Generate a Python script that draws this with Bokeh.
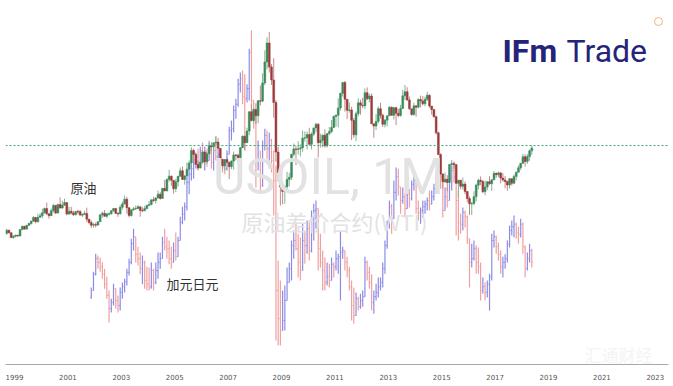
import numpy as np
from bokeh.plotting import figure
from bokeh.models import Range1d, FixedTicker, Span, Label, ColumnDataSource
from bokeh.embed import file_html
from bokeh.resources import INLINE

# ---------------- data ----------------
oil_start = (1998, 9)
oil_first_open = 13.9
oil_close = [16.1, 14.4, 11.2, 12.1,
    12.8, 12.3, 16.5, 18.7, 16.8, 19.3, 20.5, 22.1, 24.5, 21.7, 24.6, 25.6,
    27.6, 30.4, 26.9, 25.7, 29.0, 32.5, 27.4, 33.1, 30.8, 32.7, 34.4, 26.8,
    28.7, 27.4, 26.3, 28.5, 28.4, 26.2, 26.4, 27.2, 23.4, 21.2, 19.4, 19.8,
    19.5, 21.7, 26.3, 27.3, 25.3, 26.9, 27.0, 29.0, 30.5, 27.2, 26.9, 31.2,
    33.5, 36.6, 31.0, 25.8, 29.6, 30.2, 30.5, 31.6, 29.2, 29.1, 30.4, 32.5,
    33.1, 36.2, 35.8, 37.4, 39.9, 37.1, 43.8, 42.1, 49.6, 51.8, 49.1, 43.5,
    48.2, 51.8, 55.4, 49.7, 52.0, 56.5, 60.6, 68.9, 66.2, 59.8, 57.3, 61.0,
    67.9, 61.4, 66.6, 71.9, 71.3, 73.9, 74.4, 70.3, 62.9, 58.7, 62.9, 61.1,
    58.1, 61.8, 65.9, 65.7, 64.0, 70.7, 78.2, 74.0, 81.7, 94.5, 88.7, 96.0,
    91.8, 101.8, 101.6, 113.5, 127.4, 140.0, 124.1, 115.5, 100.6, 67.8, 54.4, 44.6,
    41.7, 44.8, 49.7, 51.1, 66.3, 69.9, 69.5, 70.0, 70.6, 77.0, 77.3, 79.4,
    72.9, 79.7, 83.8, 86.2, 74.0, 75.6, 79.0, 71.9, 80.0, 81.4, 84.1, 91.4,
    92.2, 97.0, 106.7, 113.9, 102.7, 95.4, 95.7, 88.8, 79.2, 93.2, 100.4, 98.8,
    98.5, 107.1, 103.0, 104.9, 86.5, 85.0, 88.1, 96.5, 92.2, 86.2, 88.9, 91.8,
    97.5, 92.1, 97.2, 93.5, 92.0, 96.6, 105.0, 107.7, 102.3, 96.4, 92.7, 98.4,
    97.5, 102.6, 101.6, 99.7, 102.7, 105.4, 98.2, 96.0, 91.2, 80.5, 66.2, 53.3,
    48.2, 49.8, 47.6, 59.6, 60.3, 59.5, 47.1, 49.2, 45.1, 46.6, 41.7, 37.0,
    33.6, 33.8, 38.3, 45.9, 49.1, 48.3, 41.6, 44.7, 48.2, 46.9, 49.4, 53.7,
    52.8, 54.0, 50.6, 49.3, 48.3, 46.0, 50.2, 47.2, 51.7, 54.4, 57.4, 60.4,
    64.7, 61.6, 64.9, 68.6, 70.5]
oil_high = [16.9, 16.3, 14.8, 12.8,
    13.2, 13.0, 16.8, 18.9, 18.8, 19.4, 21.0, 22.4, 25.5, 24.9, 26.9, 27.4,
    30.3, 31.1, 34.4, 27.2, 30.4, 33.4, 32.5, 33.6, 37.8, 35.6, 37.0, 34.4,
    31.6, 31.6, 28.8, 28.6, 29.7, 29.4, 27.4, 28.9, 31.0, 23.4, 22.6, 20.8,
    21.3, 21.9, 26.5, 28.4, 29.4, 27.4, 28.0, 29.4, 30.8, 30.6, 28.0, 32.9,
    35.0, 39.1, 38.1, 30.0, 29.7, 31.4, 32.4, 32.7, 30.2, 31.3, 32.2, 33.0,
    35.3, 36.4, 38.3, 37.9, 42.3, 41.2, 44.0, 49.4, 50.5, 56.0, 52.3, 46.3,
    50.0, 52.0, 57.6, 58.3, 52.6, 60.9, 62.3, 70.9, 70.0, 66.7, 62.3, 61.3,
    69.2, 68.4, 67.9, 75.4, 74.3, 74.0, 78.4, 77.1, 70.5, 63.3, 62.9, 64.3,
    61.3, 62.3, 68.1, 66.5, 66.6, 71.0, 78.8, 78.8, 83.9, 94.7, 99.3, 97.0,
    100.1, 102.1, 111.8, 119.9, 135.1, 143.7, 147.3, 126.0, 130.0, 102.2, 71.1, 54.9,
    48.6, 45.8, 54.7, 54.0, 66.7, 73.4, 71.9, 75.0, 72.9, 82.0, 81.5, 81.3,
    83.9, 80.9, 83.9, 87.2, 87.0, 79.9, 79.4, 82.8, 80.1, 84.4, 89.0, 92.0,
    92.6, 103.4, 107.0, 113.9, 114.8, 102.4, 100.6, 97.8, 90.5, 94.6, 103.4, 102.4,
    103.7, 109.8, 110.6, 106.4, 106.7, 86.4, 92.9, 97.9, 100.4, 93.2, 89.7, 91.8,
    98.2, 97.8, 97.7, 97.8, 96.4, 99.0, 108.9, 112.2, 110.7, 104.5, 95.9, 100.6,
    98.3, 103.4, 105.2, 104.9, 104.4, 107.7, 106.0, 98.3, 95.9, 91.9, 81.2, 67.0,
    53.7, 54.2, 52.5, 59.9, 62.6, 61.6, 59.5, 49.3, 49.3, 50.9, 48.4, 42.0,
    38.4, 34.8, 41.9, 46.8, 50.2, 51.7, 49.4, 48.8, 48.4, 51.9, 49.9, 55.2,
    54.3, 54.9, 54.6, 53.8, 52.0, 48.9, 50.4, 50.2, 52.9, 54.9, 59.1, 60.5,
    66.7, 66.3, 66.5, 69.6, 72.3]
oil_low = [13.1, 13.9, 10.9, 10.4,
    11.3, 11.6, 12.0, 16.0, 16.4, 16.6, 18.9, 19.8, 21.5, 20.6, 21.3, 24.5,
    24.0, 27.0, 26.0, 23.7, 25.5, 27.8, 26.8, 27.4, 30.5, 30.2, 32.0, 25.9,
    26.1, 26.5, 25.6, 25.9, 26.8, 25.6, 24.8, 26.2, 21.6, 20.0, 17.5, 17.8,
    17.9, 19.0, 21.5, 24.3, 25.0, 24.2, 25.9, 26.3, 28.3, 26.9, 24.9, 26.5,
    29.7, 33.0, 27.0, 24.5, 25.0, 28.9, 29.5, 30.3, 25.0, 28.1, 28.5, 29.9,
    32.0, 32.5, 34.6, 33.6, 37.1, 36.3, 37.8, 41.9, 41.8, 48.1, 45.5, 40.3,
    41.3, 45.0, 51.3, 49.3, 46.2, 51.2, 55.9, 59.5, 62.2, 59.1, 56.0, 56.9,
    61.1, 59.4, 60.1, 66.0, 68.4, 68.1, 72.5, 69.6, 59.5, 56.6, 55.4, 60.6,
    49.9, 56.4, 56.2, 62.4, 61.5, 64.2, 70.4, 69.0, 73.9, 79.0, 88.0, 87.0,
    86.1, 86.9, 98.7, 100.6, 112.0, 122.6, 120.4, 112.2, 90.5, 61.3, 48.4, 32.4,
    33.2, 33.6, 40.8, 45.1, 49.3, 64.9, 59.1, 66.1, 65.0, 68.0, 74.7, 69.5,
    72.4, 69.5, 78.3, 81.1, 64.2, 70.8, 71.0, 70.8, 70.8, 79.0, 80.4, 85.7,
    84.6, 84.1, 95.2, 104.5, 94.6, 89.6, 93.9, 75.7, 77.1, 74.9, 91.5, 92.5,
    96.8, 96.2, 102.1, 100.7, 86.3, 77.3, 82.4, 86.7, 90.0, 84.4, 84.1, 84.8,
    91.8, 92.0, 89.3, 85.6, 91.0, 91.2, 96.5, 102.2, 101.6, 95.9, 91.8, 91.8,
    91.2, 96.8, 97.4, 98.6, 98.0, 101.6, 97.1, 92.5, 90.6, 79.4, 65.7, 52.4,
    43.6, 47.3, 42.0, 47.0, 56.5, 56.6, 46.7, 37.8, 43.2, 43.0, 39.9, 34.5,
    26.2, 26.1, 32.6, 35.2, 43.0, 45.8, 40.6, 39.2, 42.5, 46.0, 42.2, 49.9,
    50.7, 51.2, 47.1, 48.2, 43.8, 42.1, 43.6, 45.6, 46.5, 49.1, 54.2, 55.8,
    59.8, 58.1, 59.9, 62.0, 66.0]

cad_start = (2001, 11)
cad_first_open = 80.5
cad_high = [82.1, 84.6,
    87.5, 87.2, 86.9, 86.1, 85.1, 83.8, 81.6, 80.3, 82.7, 81.9, 80.8, 82.1,
    82.9, 83.5, 85.1, 86.7, 89.9, 91.5, 89.9, 88.6, 87.7, 87.2, 86.4, 85.4,
    85.3, 86.1, 85.1, 86.1, 87.7, 87.7, 90.2, 91.5, 90.2, 89.6, 88.6, 89.3,
    90.9, 90.2, 93.4, 95.0, 95.7, 99.8, 101.1, 102.1, 102.7, 103.7, 104.3, 104.6,
    105.3, 104.6, 104.3, 105.3, 104.0, 104.6, 106.2, 104.3, 104.0, 102.7, 102.4, 104.0,
    107.8, 108.8, 111.2, 112.3, 115.5, 116.5, 116.8, 116.2, 114.6, 120.3, 123.2, 112.0,
    110.4, 105.6, 104.0, 105.6, 107.5, 107.2, 106.9, 105.9, 104.0, 101.6, 86.4, 83.2,
    81.6, 82.4, 85.3, 86.1, 89.6, 91.2, 92.5, 90.7, 90.1, 92.3, 91.2, 92.8,
    92.8, 94.4, 95.5, 96.0, 92.0, 90.7, 88.0, 86.9, 86.1, 85.9, 86.9, 86.1,
    88.0, 87.5, 91.2, 88.6, 87.7, 87.0, 85.4, 83.2, 82.1, 81.3, 80.6, 81.1,
    81.6, 87.0, 86.4, 85.4, 84.2, 81.6, 82.7, 83.7, 83.7, 86.1, 89.6, 92.8,
    96.0, 95.5, 99.2, 101.3, 101.1, 98.1, 98.1, 97.1, 98.1, 97.9, 99.2, 99.8,
    99.7, 96.0, 94.9, 96.0, 96.0, 96.5, 97.6, 97.6, 98.7, 100.3, 101.6, 102.4,
    99.8, 98.1, 98.1, 100.8, 101.6, 101.9, 99.5, 97.6, 93.9, 94.9, 94.4, 93.6,
    89.9, 89.1, 89.6, 88.8, 88.5, 86.1, 83.7, 82.9, 83.2, 84.3, 90.7, 91.2,
    90.4, 89.3, 88.0, 87.0, 87.4, 89.6, 92.0, 92.8, 93.6, 92.5, 91.8, 93.1,
    92.5, 88.8, 87.7, 89.1, 88.3]
cad_low = [80.3, 81.6,
    84.0, 85.1, 84.6, 83.5, 81.9, 80.3, 76.5, 78.1, 79.2, 78.7, 78.1, 78.4,
    80.3, 81.3, 82.4, 84.0, 85.8, 88.0, 86.1, 85.6, 84.2, 82.6, 81.9, 81.6,
    81.6, 81.9, 81.6, 82.6, 83.5, 85.1, 86.7, 88.0, 86.7, 85.8, 85.1, 86.1,
    86.4, 87.4, 89.6, 92.2, 92.8, 94.4, 97.0, 99.2, 99.5, 101.1, 100.8, 102.4,
    101.8, 100.8, 101.4, 102.4, 101.1, 100.8, 102.4, 100.8, 101.1, 100.5, 100.2, 100.8,
    104.0, 105.6, 106.9, 109.1, 111.0, 113.3, 111.4, 104.0, 111.7, 112.0, 109.1, 107.5,
    98.1, 100.8, 97.1, 98.2, 104.0, 102.7, 102.4, 100.5, 93.6, 73.6, 72.8, 72.8,
    75.2, 75.2, 80.0, 82.9, 83.2, 86.7, 88.0, 83.7, 83.2, 85.1, 85.9, 87.5,
    86.4, 87.7, 89.6, 91.5, 84.8, 85.3, 81.6, 81.6, 82.4, 82.1, 83.2, 83.7,
    84.8, 84.3, 80.0, 86.7, 84.8, 83.7, 81.6, 76.8, 76.3, 77.9, 78.4, 78.7,
    79.0, 81.0, 83.2, 81.9, 78.4, 77.9, 80.0, 80.5, 81.6, 82.1, 84.3, 88.3,
    91.5, 90.7, 93.9, 96.0, 96.8, 93.9, 95.5, 93.3, 95.7, 94.9, 96.0, 97.6,
    93.9, 92.8, 92.3, 93.3, 93.9, 94.4, 94.4, 95.5, 96.0, 97.1, 98.7, 97.9,
    93.3, 94.4, 94.9, 96.0, 97.6, 98.9, 90.4, 89.6, 90.7, 91.2, 91.7, 89.1,
    82.1, 85.3, 86.4, 84.3, 84.3, 80.0, 81.1, 80.0, 80.5, 78.4, 83.2, 88.5,
    87.5, 86.4, 84.3, 83.7, 85.1, 86.1, 88.5, 90.4, 90.1, 89.9, 89.1, 90.1,
    87.5, 83.7, 84.8, 86.1, 85.3]
cad_close = [81.6, 84.2,
    86.7, 86.1, 85.4, 84.2, 82.6, 80.8, 78.7, 79.7, 81.9, 80.0, 79.2, 81.3,
    82.2, 83.0, 84.5, 86.1, 89.1, 90.2, 87.4, 86.7, 85.1, 86.1, 83.2, 82.6,
    82.2, 84.8, 82.9, 84.8, 86.1, 86.7, 89.3, 88.6, 88.3, 86.7, 86.1, 88.0,
    87.0, 89.6, 92.5, 93.8, 95.0, 98.9, 100.2, 101.1, 101.8, 103.0, 102.1, 104.0,
    102.7, 103.7, 102.4, 104.6, 102.1, 104.0, 103.0, 103.4, 102.1, 101.4, 101.1, 103.4,
    107.2, 107.5, 110.4, 111.4, 114.6, 115.5, 112.6, 112.3, 113.9, 119.7, 112.0, 110.1,
    102.4, 102.7, 98.4, 104.8, 106.4, 104.3, 105.6, 102.4, 99.2, 81.6, 77.1, 75.2,
    76.8, 80.0, 82.9, 85.1, 88.8, 89.6, 88.3, 86.1, 84.8, 89.6, 88.8, 91.5,
    88.0, 92.8, 94.4, 94.7, 88.3, 86.1, 84.8, 82.9, 83.8, 83.2, 85.8, 85.4,
    86.7, 87.0, 87.7, 88.0, 86.1, 84.8, 82.2, 79.2, 77.6, 80.3, 79.0, 80.0,
    80.6, 86.1, 84.5, 82.9, 79.7, 80.6, 81.3, 82.2, 82.9, 85.1, 88.8, 92.0,
    95.0, 93.1, 97.3, 99.8, 98.2, 96.0, 96.6, 94.7, 97.0, 96.3, 98.6, 99.2,
    94.7, 94.1, 94.4, 95.0, 95.4, 96.0, 95.4, 96.6, 97.9, 99.5, 100.8, 99.8,
    94.4, 96.6, 96.0, 99.5, 100.8, 99.8, 96.0, 92.5, 92.2, 94.1, 93.4, 89.9,
    86.1, 86.7, 88.3, 86.1, 85.4, 81.6, 82.2, 81.3, 82.6, 83.8, 89.6, 90.2,
    88.6, 87.4, 85.4, 86.1, 86.7, 89.0, 91.2, 91.8, 92.2, 90.9, 90.6, 92.2,
    88.6, 85.1, 86.7, 88.0, 86.1]

year_ticks = list(range(1999, 2024, 2))
oil_dash_level = 72.1

# ---------------- helpers ----------------
def month_times(start, n):
    y0, m0 = start
    k = np.arange(n) + (m0 - 1)
    return y0 + k / 12.0 + 1.0 / 24.0

def ohlc(first_open, close, high, low):
    c = np.array(close, float)
    o = np.concatenate([[first_open], c[:-1]])
    h = np.maximum.reduce([np.array(high, float), o, c])
    l = np.minimum.reduce([np.array(low, float), o, c])
    return o, h, l, c

X0 = 1998.663
PPY = 26.7
FRAME_W = 663
FRAME_H = 364
X1 = X0 + FRAME_W / PPY
OIL_TOP, OIL_BOT = 168.1, -72.8
CAD_TOP = 128.0
CAD_BOT = CAD_TOP - 0.16 * FRAME_H

def sx(px):   # page x -> data x
    return X0 + (px - 5) / PPY

def sy_oil(py):  # page y (from top) -> oil axis value
    return OIL_TOP - (OIL_TOP - OIL_BOT) * py / FRAME_H

p = figure(width=673, height=386, x_range=Range1d(X0, X1),
           y_range=Range1d(OIL_BOT, OIL_TOP), output_backend="svg",
           toolbar_location=None, y_axis_location=None,
           min_border_left=5, min_border_right=5, min_border_top=0,
           min_border_bottom=22)
p.extra_y_ranges = {"cad": Range1d(CAD_BOT, CAD_TOP)}
p.outline_line_color = None
p.grid.visible = False
p.background_fill_color = "white"
p.border_fill_color = "white"

ax = p.xaxis[0]
ax.ticker = FixedTicker(ticks=year_ticks)
ax.major_tick_in = 0
ax.major_tick_out = 0
ax.minor_tick_in = 0
ax.minor_tick_out = 0
ax.axis_line_color = "#a8a8a8"
ax.major_label_text_font_size = "7px"
ax.major_label_text_color = "#555555"
ax.major_label_text_font = "DejaVu Sans"
ax.major_label_standoff = 9

# watermark texts
p.add_layout(Label(x=sx(328), y=sy_oil(176), text="USOIL, 1M", text_align="center",
                   text_baseline="middle", text_font="Roboto",
                   text_font_size="50px", text_color="#e2e2e2"))
p.add_layout(Label(x=sx(334), y=sy_oil(220), text="原油差价合约(WTI)", text_align="center",
                   text_baseline="middle", text_font="Noto Sans CJK SC",
                   text_font_size="22px", text_color="#e2e2e2"))
p.add_layout(Label(x=sx(618), y=sy_oil(354), text="汇通财经", text_align="center",
                   text_baseline="middle", text_font="Noto Sans CJK SC",
                   text_font_size="17px", text_color="#f4f4f4"))

# CAD/JPY OHLC bars
ct = month_times(cad_start, len(cad_close))
co, ch, cl, cc = ohlc(cad_first_open, cad_close, cad_high, cad_low)
ccol = np.where(cc >= co, "#8c8ce8", "#f0a0a0")
tick = 0.035
src_c = ColumnDataSource(dict(t=ct, o=co, h=ch, l=cl, c=cc, col=ccol,
                              tl=ct - tick, tr=ct + tick))
p.segment(x0="t", y0="l", x1="t", y1="h", source=src_c, line_color="col",
          line_width=1.2, y_range_name="cad")
p.segment(x0="tl", y0="o", x1="t", y1="o", source=src_c, line_color="col",
          line_width=1, y_range_name="cad")
p.segment(x0="t", y0="c", x1="tr", y1="c", source=src_c, line_color="col",
          line_width=1, y_range_name="cad")

# Oil candles
ot = month_times(oil_start, len(oil_close))
oo, oh, ol, oc = ohlc(oil_first_open, oil_close, oil_high, oil_low)
up = oc >= oo
ocol = np.where(up, "#3a8a5a", "#9c3a3a")
wcol = np.where(up, "#7fb596", "#c08a8a")
top = np.maximum(oo, oc)
bot = np.minimum(oo, oc)
bot = np.where(top - bot < 0.4, top - 0.4, bot)
src_o = ColumnDataSource(dict(t=ot, h=oh, l=ol, top=top, bot=bot, col=ocol, wcol=wcol))
p.segment(x0="t", y0="l", x1="t", y1="h", source=src_o, line_color="wcol", line_width=1)
p.vbar(x="t", width=0.07, top="top", bottom="bot", source=src_o,
       fill_color="col", line_color="col", line_width=0.5)

# dashed level line
p.add_layout(Span(location=oil_dash_level, dimension="width", line_color="#3f9e7a",
                  line_dash="2 2", line_width=1))

# series labels
p.add_layout(Label(x=sx(83), y=sy_oil(187), text="原油", text_align="center",
                   text_baseline="middle", text_font="Noto Sans CJK SC",
                   text_font_size="13px", text_color="#333333"))
p.add_layout(Label(x=sx(192), y=sy_oil(283), text="加元日元", text_align="center",
                   text_baseline="middle", text_font="Noto Sans CJK SC",
                   text_font_size="13px", text_color="#333333"))

# logo
p.add_layout(Label(x=sx(502), y=sy_oil(50), text="IFm", text_align="left",
                   text_baseline="middle", text_font="Roboto",
                   text_font_style="bold", text_font_size="32px", text_color="#24247a"))
p.add_layout(Label(x=sx(566), y=sy_oil(50), text="Trade", text_align="left",
                   text_baseline="middle", text_font="Roboto",
                   text_font_size="32px", text_color="#24247a"))
p.scatter(x=[sx(658)], y=[sy_oil(21)], size=8, marker="circle",
          fill_color=None, line_color="#f2b27a", line_width=1)

open("out.html", "w").write(file_html(p, INLINE))
